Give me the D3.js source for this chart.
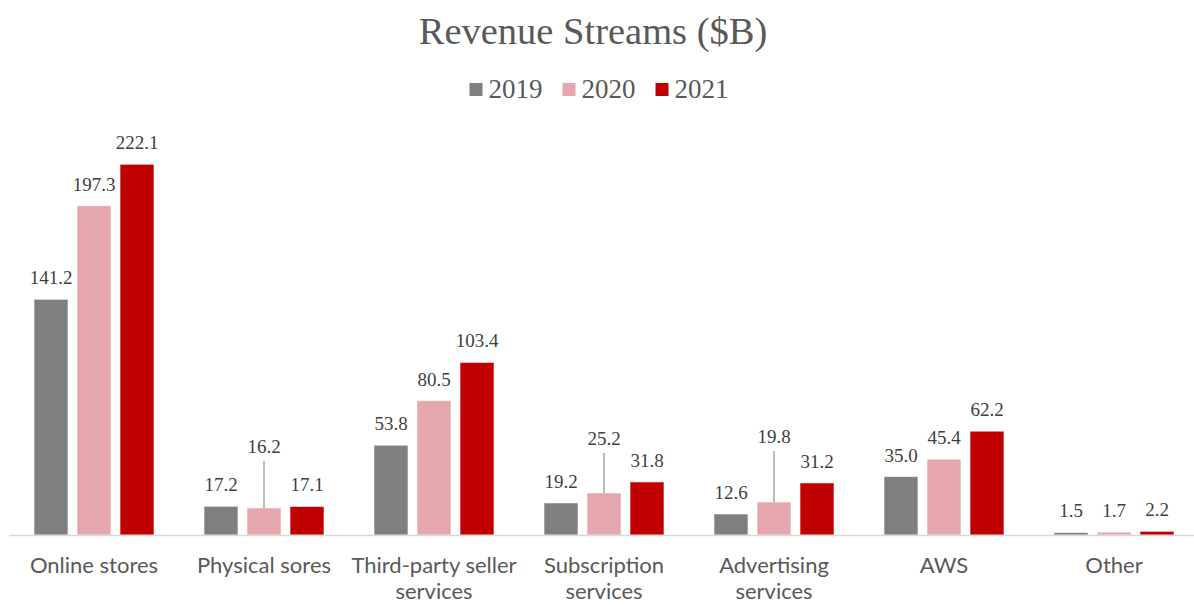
<!DOCTYPE html>
<html>
<head>
<meta charset="utf-8">
<script src="https://cdn.jsdelivr.net/npm/d3@7"></script>
<style>
  body { margin: 0; background: #fff; }
  svg { display: block; }
</style>
</head>
<body>
<div id="chart"></div>
<script>
// data
const categories = ["Online stores", "Physical sores", "Third-party seller services",
  "Subscription services", "Advertising services", "AWS", "Other"];
const years = ["2019", "2020", "2021"];
const values2019 = [141.2, 17.2, 53.8, 19.2, 12.6, 35.0, 1.5];
const values2020 = [197.3, 16.2, 80.5, 25.2, 19.8, 45.4, 1.7];
const values2021 = [222.1, 17.1, 103.4, 31.8, 31.2, 62.2, 2.2];
const seriesValues = [values2019, values2020, values2021];
const colors = ["#7f7f7f", "#e6a6ad", "#c00000"];

// labels pulled up with a leader line (category|year -> extra lift)
const lifted = { "Physical sores|2020": 40, "Subscription services|2020": 33, "Advertising services|2020": 44 };

const width = 1194, height = 605;
const baseY = 535;
const serif = "'Liberation Serif', 'Times New Roman', serif";

const svg = d3.select("#chart").append("svg")
  .attr("width", width)
  .attr("height", height);

const x0 = d3.scaleBand()
  .domain(categories)
  .range([9, 1199])
  .paddingInner(50 / 170)
  .paddingOuter(25 / 170);

const x1 = d3.scaleBand()
  .domain(years)
  .range([0, x0.bandwidth()])
  .paddingInner(9 / 43);

const y = d3.scaleLinear()
  .domain([0, 222.1])
  .range([baseY, baseY - 370.7]);

const rows = [];
categories.forEach((c, i) => {
  years.forEach((yr, j) => rows.push({ cat: c, year: yr, value: seriesValues[j][i], color: colors[j] }));
});

// bars
svg.append("g").selectAll("rect")
  .data(rows)
  .join("rect")
  .attr("x", d => x0(d.cat) + x1(d.year))
  .attr("y", d => y(d.value))
  .attr("width", x1.bandwidth())
  .attr("height", d => baseY - y(d.value))
  .attr("fill", d => d.color)
  .attr("stroke", "#ffffff")
  .attr("stroke-opacity", 0.6)
  .attr("stroke-width", 1);

// axis line
svg.append("line")
  .attr("x1", 9).attr("x2", width)
  .attr("y1", baseY + 0.5).attr("y2", baseY + 0.5)
  .attr("stroke", "#d9d9d9")
  .attr("stroke-width", 1.5);

// data labels
const labels = svg.append("g")
  .attr("font-family", serif)
  .attr("font-size", 19)
  .attr("fill", "#404040")
  .attr("text-anchor", "middle");

rows.forEach(d => {
  const cx = x0(d.cat) + x1(d.year) + x1.bandwidth() / 2;
  const lift = lifted[d.cat + "|" + d.year] || 0;
  const ty = y(d.value) - 15 - lift;
  labels.append("text")
    .attr("x", cx)
    .attr("y", ty)
    .text(d3.format(".1f")(d.value));
  if (lift) {
    svg.append("line")
      .attr("x1", cx).attr("x2", cx)
      .attr("y1", ty + 8).attr("y2", y(d.value))
      .attr("stroke", "#a6a6a6")
      .attr("stroke-width", 1.5);
  }
});

// category labels
const wrap = {
  "Third-party seller services": ["Third-party seller", "services"],
  "Subscription services": ["Subscription", "services"],
  "Advertising services": ["Advertising", "services"]
};
const catG = svg.append("g")
  .attr("font-family", "Lato, 'Open Sans', sans-serif")
  .attr("font-size", 22)
  .attr("fill", "#595959")
  .attr("text-anchor", "middle");
categories.forEach(c => {
  const lines = wrap[c] || [c];
  const t = catG.append("text")
    .attr("x", x0(c) + x0.bandwidth() / 2)
    .attr("y", 573);
  lines.forEach((ln, i) => {
    t.append("tspan")
      .attr("x", x0(c) + x0.bandwidth() / 2)
      .attr("dy", i ? 26 : 0)
      .text(ln);
  });
});

// title
svg.append("text")
  .attr("x", 593)
  .attr("y", 44)
  .attr("text-anchor", "middle")
  .attr("font-family", serif)
  .attr("font-size", 38.5)
  .attr("fill", "#595959")
  .text("Revenue Streams ($B)");

// legend
const legend = svg.append("g")
  .attr("font-family", serif)
  .attr("font-size", 27)
  .attr("fill", "#595959");
let lx = 0;
years.forEach((yr, i) => {
  const g = legend.append("g").attr("transform", `translate(${lx},0)`);
  g.append("rect").attr("x", 0).attr("y", -15).attr("width", 13).attr("height", 13).attr("fill", colors[i]);
  const t = g.append("text").attr("x", 19).attr("y", 0).text(yr);
  lx += 19 + t.node().getComputedTextLength() + 20;
});
const legendW = lx - 20;
legend.attr("transform", `translate(${599 - legendW / 2},98)`);
</script>
</body>
</html>
